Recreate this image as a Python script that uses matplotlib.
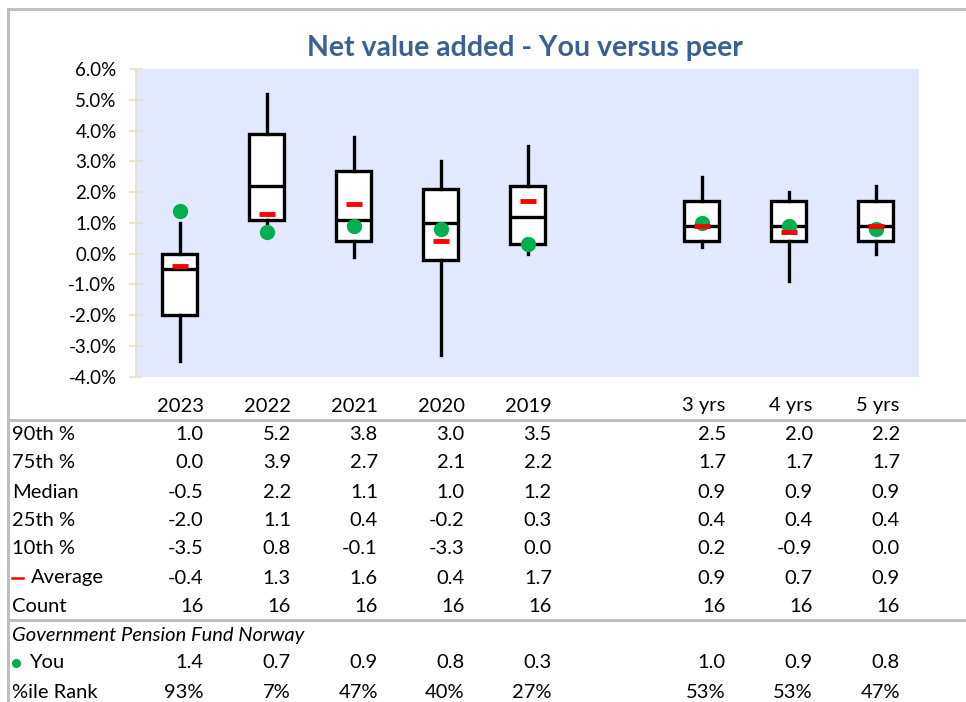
import matplotlib
matplotlib.use("Agg")
import matplotlib.pyplot as plt
import matplotlib.transforms as mtransforms
from matplotlib.lines import Line2D

plt.rcParams['font.family'] = ['Lato', 'DejaVu Sans']

# columns (empty string = spacer column between single years and multi-year)
columns = ['2023', '2022', '2021', '2020', '2019', '', '3 yrs', '4 yrs', '5 yrs']

p90 = [1.0, 5.2, 3.8, 3.0, 3.5, None, 2.5, 2.0, 2.2]
p75 = [0.0, 3.9, 2.7, 2.1, 2.2, None, 1.7, 1.7, 1.7]
median = [-0.5, 2.2, 1.1, 1.0, 1.2, None, 0.9, 0.9, 0.9]
p25 = [-2.0, 1.1, 0.4, -0.2, 0.3, None, 0.4, 0.4, 0.4]
p10 = [-3.5, 0.8, -0.1, -3.3, 0.0, None, 0.2, -0.9, 0.0]
average = [-0.4, 1.3, 1.6, 0.4, 1.7, None, 0.9, 0.7, 0.9]
count = [16, 16, 16, 16, 16, None, 16, 16, 16]
you = [1.4, 0.7, 0.9, 0.8, 0.3, None, 1.0, 0.9, 0.8]
rank = ['93%', '7%', '47%', '40%', '27%', None, '53%', '53%', '47%']

fund_name = 'Government Pension Fund Norway'
title = 'Net value added - You versus peer'

W, H = 966, 702
fig = plt.figure(figsize=(W / 100, H / 100), dpi=100)


def fx(px):
    return px / W


def fy(py):
    return 1 - py / H


ax = fig.add_axes([fx(136), fy(376.7), fx(919) - fx(136), fy(69) - fy(376.7)])
ax.set_facecolor('#E2E9FC')

idx = [i for i, c in enumerate(columns) if c]
stats = [dict(med=median[i], q1=p25[i], q3=p75[i], whislo=p10[i], whishi=p90[i])
         for i in idx]
ax.bxp(stats, positions=idx, widths=0.40, showcaps=False, showfliers=False,
       patch_artist=True,
       boxprops=dict(facecolor='white', edgecolor='black', linewidth=2.4),
       whiskerprops=dict(color='black', linewidth=2.4),
       medianprops=dict(color='black', linewidth=2.4))

ax.plot(idx, [you[i] for i in idx], 'o', color='#00B050', markersize=10,
        linestyle='none', zorder=5)
ax.plot(idx, [average[i] for i in idx], '_', color='#FF0000', markersize=11,
        markeredgewidth=3.5, linestyle='none', zorder=6)

ax.set_xlim(-0.5, len(columns) - 0.5)
ax.set_ylim(-4, 6)
ax.set_yticks(range(-4, 7))
ax.set_yticklabels([f'{v:.1f}%' for v in range(-4, 7)])
ax.set_xticks([])
for s in ['top', 'right', 'bottom']:
    ax.spines[s].set_visible(False)
ax.spines['left'].set_color('#E6DFC8')
ax.spines['left'].set_linewidth(1.2)
ax.tick_params(axis='y', direction='inout', length=10, width=1.2,
               color='#E6DFC8', labelsize=13.5, pad=9)

fig.text(fx(525), fy(48), title, ha='center', va='center', fontsize=20.5,
         fontweight='bold', color='#3A6192')

# table below the plot, columns aligned to the axis categories
trans = mtransforms.blended_transform_factory(ax.transData, fig.transFigure)
off = 0.28
fs = 14.5


def row(y, values, fmt=str):
    for i, v in enumerate(values):
        if v is None:
            continue
        ax.text(i + off, fy(y), fmt(v), transform=trans, ha='right',
                va='center', fontsize=fs, clip_on=False)


row(406, columns)
rows = [('90th %', p90), ('75th %', p75), ('Median', median),
        ('25th %', p25), ('10th %', p10), ('Average', average)]
ys = [434, 463, 492, 520, 549, 578]
for (label, vals), y in zip(rows, ys):
    if label == 'Average':
        fig.add_artist(Line2D([fx(12), fx(23)], [fy(578), fy(578)],
                              color='#FF0000', linewidth=1.8))
        fig.text(fx(31), fy(y), label, ha='left', va='center', fontsize=fs)
    else:
        fig.text(fx(12), fy(y), label, ha='left', va='center', fontsize=fs)
    row(y, vals, lambda v: f'{v:.1f}')

fig.text(fx(12), fy(606), 'Count', ha='left', va='center', fontsize=fs)
row(606, count)

fig.text(fx(12), fy(635), fund_name, ha='left', va='center', fontsize=fs,
         style='italic')
fig.add_artist(Line2D([fx(16)], [fy(663)], marker='o', markersize=5.5,
                      color='#00B050', linestyle='none'))
fig.text(fx(29), fy(663), 'You', ha='left', va='center', fontsize=fs)
row(663, you, lambda v: f'{v:.1f}')
fig.text(fx(12), fy(692), '%ile Rank', ha='left', va='center', fontsize=fs)
row(692, rank)

# frame and table rules
grey = '#BFBFBF'
for line in [((fx(8), 1), (fy(9), fy(9))),
             ((fx(8), fx(8)), (fy(9), 0)),
             ((fx(8), 1), (fy(420), fy(420))),
             ((fx(8), 1), (fy(620), fy(620)))]:
    fig.add_artist(Line2D(line[0], line[1], color=grey, linewidth=2.2))

fig.savefig('out.png', dpi=100)
